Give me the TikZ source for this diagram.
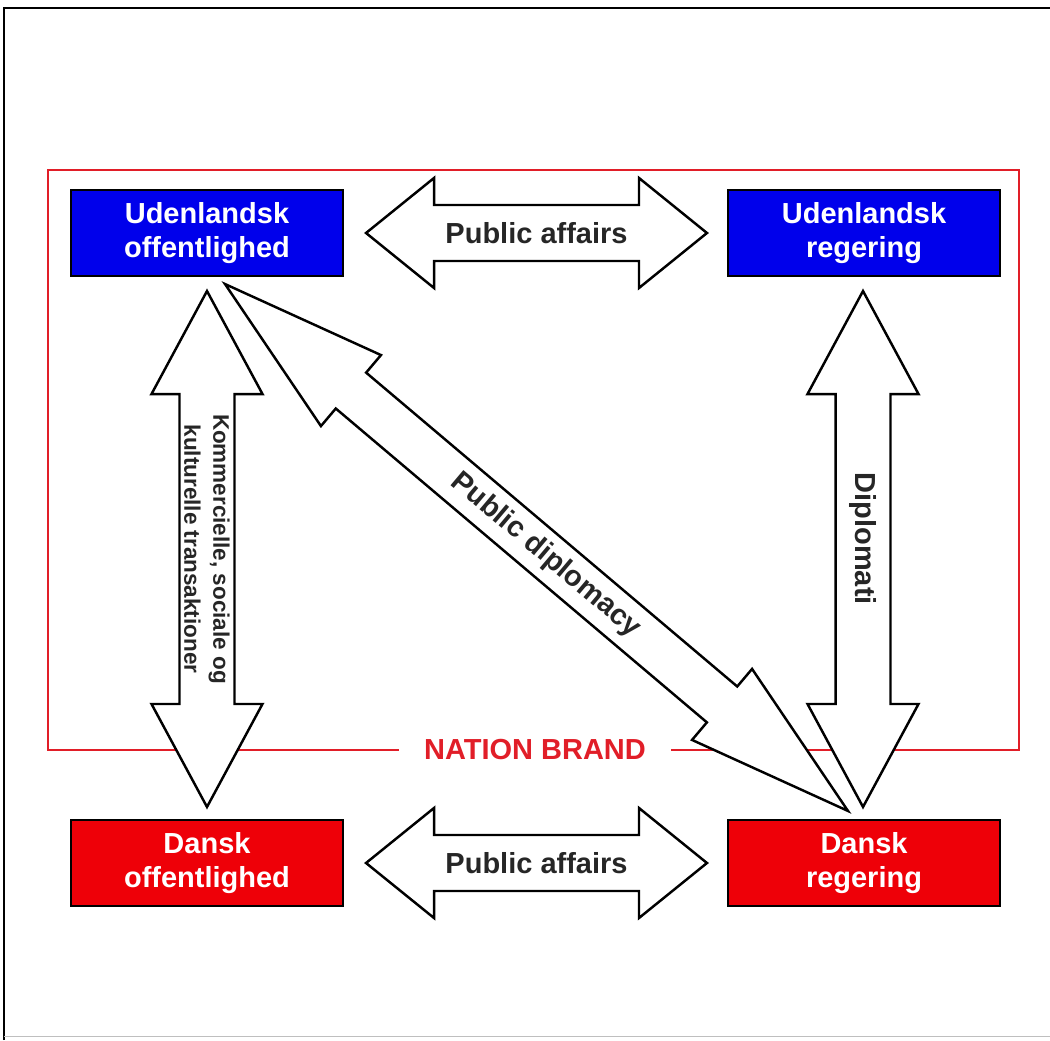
\documentclass[tikz,border=0pt]{standalone}
\usepackage{fontspec}
\setmainfont{Liberation Sans}
\usetikzlibrary{calc}
\definecolor{ublue}{RGB}{0,0,235}
\definecolor{dred}{RGB}{238,0,8}
\definecolor{nbred}{RGB}{225,30,40}
\newcommand{\fatarrow}[5]{%
  \coordinate (ha) at ($(#1)!#5!(#2)$);
  \coordinate (hb) at ($(#2)!#5!(#1)$);
  \draw[fat] (#1) -- ($(ha)!#4!90:(#2)$) -- ($(ha)!#3!90:(#2)$) -- ($(hb)!#3!-90:(#1)$)
    -- ($(hb)!#4!-90:(#1)$) -- (#2) -- ($(hb)!#4!90:(#1)$) -- ($(hb)!#3!90:(#1)$)
    -- ($(ha)!#3!-90:(#2)$) -- ($(ha)!#4!-90:(#2)$) -- cycle;
}
\begin{document}
\begin{tikzpicture}[
    x=0.02cm, y=-0.02cm,
    box/.style={draw=black, line width=1.2pt, minimum width=5.44cm, minimum height=1.72cm,
      inner sep=0pt, align=center, text=white, font=\fontsize{16.5}{19.5}\selectfont\bfseries},
    fat/.style={draw=black, fill=white, line width=1.4pt, line join=miter},
    lbl/.style={font=\fontsize{16.5}{19.5}\selectfont\bfseries, text=black!85},
    nbframe/.style={draw=nbred, line width=1.4pt}
  ]
  \useasboundingbox (0,0) rectangle (1050,1040);
  \draw[line width=1.2pt] (4,1040) -- (4,8) -- (1050,8);
  \draw[black!25] (4,1036) -- (1050,1036);

  \node[box, fill=ublue] (uoff) at (207,233) {Udenlandsk\\offentlighed};
  \node[box, fill=ublue] (ureg) at (864,233) {Udenlandsk\\regering};
  \node[box, fill=dred] (doff) at (207,863) {Dansk\\offentlighed};
  \node[box, fill=dred] (dreg) at (864,863) {Dansk\\regering};

  \node[lbl, text=nbred, inner xsep=0.5cm] (nb) at (535,750) {NATION BRAND};
  \draw[nbframe] (nb.west) -- (48,750) -- (48,170) -- (1019,170) -- (1019,750) -- (nb.east);

  \coordinate (pa1) at ($(uoff.east)+(22,0)$);
  \coordinate (pa2) at ($(ureg.west)+(-20,0)$);
  \coordinate (pb1) at ($(doff.east)+(22,0)$);
  \coordinate (pb2) at ($(dreg.west)+(-20,0)$);
  \coordinate (k1) at ($(uoff.south)+(0,14)$);
  \coordinate (k2) at ($(doff.north)+(0,-12)$);
  \coordinate (d1) at ($(ureg.south)+(-1,14)$);
  \coordinate (d2) at ($(dreg.north)+(-1,-12)$);
  \coordinate (pd1) at ($(uoff.south)+(18,7)$);
  \coordinate (pd2) at ($(dreg.north)+(-16,-8)$);

  \fatarrow{pa1}{pa2}{0.56cm}{1.1cm}{1.36cm}
  \fatarrow{pb1}{pb2}{0.56cm}{1.1cm}{1.36cm}
  \fatarrow{k1}{k2}{0.55cm}{1.11cm}{2.06cm}
  \fatarrow{d1}{d2}{0.55cm}{1.11cm}{2.06cm}
  \fatarrow{pd1}{pd2}{0.47cm}{0.93cm}{3.3cm}

  \node[lbl] at ($(pa1)!0.5!(pa2)$) {Public affairs};
  \node[lbl] at ($(pb1)!0.5!(pb2)$) {Public affairs};
  \node[lbl, rotate=-90, align=center, font=\fontsize{12.8}{16.5}\selectfont\bfseries]
    at ($(k1)!0.5!(k2)$) {Kommercielle, sociale og\\kulturelle transaktioner};
  \node[lbl, rotate=-90] at ($(d1)!0.48!(d2)$) {Diplomati};
  \path (pd1) -- (pd2) node[lbl, sloped, pos=0.515] {Public diplomacy};
\end{tikzpicture}
\end{document}
